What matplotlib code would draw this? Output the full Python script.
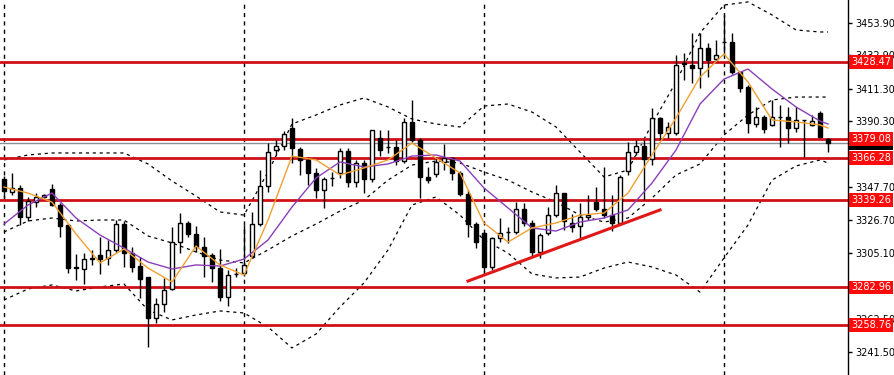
import matplotlib.pyplot as plt
import numpy as np

# candles (price units)
opens = [3353.0, 3344.6, 3347.2, 3328.5, 3338.1, 3341.4, 3346.5, 3336.2, 3323.3, 3296.2,
         3294.9, 3301.3, 3303.9, 3302.0, 3307.2, 3323.9, 3305.2, 3296.8, 3289.7, 3263.3,
         3272.3, 3282.0, 3312.3, 3324.6, 3317.5, 3309.1, 3303.9, 3295.5, 3276.8, 3291.7,
         3292.3, 3303.3, 3323.9, 3348.5, 3371.7, 3374.3, 3385.9, 3372.4, 3365.3, 3356.9,
         3345.9, 3353.6, 3356.9, 3371.1, 3351.1, 3363.3, 3353.0, 3379.5, 3373.6, 3373.6,
         3364.6, 3389.8, 3378.2, 3354.3, 3356.2, 3364.0, 3366.5, 3356.9, 3343.3, 3323.9,
         3318.1, 3296.2, 3314.9, 3318.8, 3318.8, 3333.6, 3324.6, 3305.9, 3318.1, 3329.7,
         3343.9, 3324.6, 3322.6, 3328.5, 3338.1, 3333.6, 3329.7, 3324.6, 3358.2, 3370.4,
         3374.3, 3365.9, 3392.4, 3382.7, 3382.7, 3427.9, 3426.6, 3424.7, 3437.6, 3430.5,
         3441.4, 3441.4, 3422.1, 3412.4, 3388.5, 3393.0, 3387.9, 3393.0, 3393.0, 3385.9,
         3391.1, 3387.9, 3395.6, 3378.8]
highs = [3354.9, 3356.9, 3349.1, 3341.4, 3343.9, 3343.3, 3349.8, 3337.5, 3323.9, 3304.6,
         3305.2, 3307.2, 3315.5, 3313.6, 3326.5, 3325.9, 3309.1, 3302.6, 3290.0, 3276.2,
         3289.1, 3322.0, 3331.0, 3325.9, 3322.6, 3315.5, 3305.2, 3307.8, 3294.2, 3295.5,
         3323.3, 3331.7, 3358.8, 3376.2, 3378.2, 3384.0, 3392.4, 3373.6, 3367.2, 3360.1,
         3354.3, 3357.5, 3373.0, 3373.0, 3365.3, 3365.3, 3384.6, 3384.6, 3384.6, 3378.2,
         3392.4, 3404.0, 3379.5, 3360.7, 3367.2, 3375.6, 3367.2, 3358.2, 3345.9, 3325.2,
         3318.8, 3315.5, 3327.8, 3322.0, 3338.1, 3337.5, 3326.5, 3318.1, 3334.9, 3349.1,
         3344.0, 3330.4, 3337.5, 3342.7, 3347.8, 3360.7, 3342.7, 3355.6, 3376.9, 3378.2,
         3378.2, 3398.8, 3393.0, 3389.8, 3433.0, 3434.3, 3447.3, 3447.3, 3440.8, 3442.7,
         3458.9, 3447.3, 3422.2, 3413.7, 3399.5, 3394.3, 3404.0, 3400.8, 3399.5, 3399.5,
         3391.2, 3394.3, 3396.9, 3379.5]
lows = [3340.7, 3342.7, 3323.3, 3325.9, 3334.9, 3340.7, 3335.6, 3315.5, 3292.3, 3287.8,
        3285.2, 3297.5, 3291.7, 3297.5, 3305.9, 3296.2, 3292.9, 3276.2, 3244.5, 3260.0,
        3267.1, 3281.3, 3305.2, 3315.5, 3305.9, 3289.7, 3286.5, 3274.2, 3271.0, 3289.7,
        3290.4, 3302.0, 3322.6, 3344.6, 3368.5, 3371.7, 3363.3, 3355.6, 3349.1, 3340.7,
        3334.3, 3348.5, 3353.6, 3347.8, 3347.8, 3343.9, 3351.1, 3367.8, 3369.8, 3362.0,
        3363.3, 3376.9, 3340.7, 3350.4, 3354.3, 3358.8, 3352.3, 3342.0, 3315.5, 3308.4,
        3292.9, 3294.2, 3312.3, 3311.7, 3317.5, 3322.6, 3302.6, 3302.0, 3316.8, 3328.5,
        3320.1, 3318.8, 3314.9, 3326.5, 3332.3, 3327.8, 3319.4, 3323.3, 3355.6, 3368.5,
        3339.4, 3362.0, 3378.2, 3379.5, 3381.4, 3416.9, 3415.0, 3411.7, 3418.8, 3428.5,
        3433.0, 3420.8, 3409.2, 3382.7, 3386.6, 3382.7, 3387.2, 3373.6, 3376.2, 3383.3,
        3367.2, 3387.2, 3380.1, 3370.4]
closes = [3345.2, 3347.2, 3328.5, 3338.8, 3341.4, 3342.7, 3336.2, 3322.6, 3295.5, 3295.5,
          3301.3, 3302.0, 3301.3, 3307.2, 3323.9, 3305.2, 3296.2, 3288.4, 3263.3, 3272.3,
          3281.3, 3312.3, 3324.6, 3317.5, 3309.1, 3303.3, 3295.5, 3276.8, 3291.0, 3291.6,
          3297.5, 3323.9, 3348.5, 3370.4, 3374.3, 3382.0, 3373.0, 3365.3, 3356.9, 3345.9,
          3353.0, 3353.5, 3371.1, 3351.1, 3363.3, 3353.0, 3384.6, 3371.7, 3373.5, 3364.6,
          3389.8, 3378.2, 3354.3, 3352.3, 3364.0, 3366.5, 3356.9, 3343.3, 3323.9, 3312.3,
          3296.2, 3314.9, 3318.1, 3318.7, 3333.6, 3324.6, 3305.9, 3316.8, 3329.7, 3343.9,
          3325.9, 3322.0, 3328.5, 3329.7, 3333.6, 3329.7, 3324.6, 3354.3, 3370.4, 3374.3,
          3365.9, 3392.4, 3382.7, 3386.6, 3426.6, 3427.2, 3424.7, 3437.6, 3429.8, 3433.0,
          3441.5, 3422.1, 3411.7, 3389.1, 3393.0, 3385.3, 3393.0, 3393.1, 3385.9, 3391.1,
          3391.0, 3390.4, 3380.1, 3376.47]

# indicator lines, sampled every 3 bars
band_idx = list(range(0, 103, 3)) + [103]
bb_upper = [3365.3, 3368.5, 3369.8, 3369.8, 3369.8, 3369.8, 3362.7, 3351.7, 3342.0, 3331.7,
            3329.7, 3357.5, 3388.5, 3394.3, 3400.8, 3405.3, 3399.5, 3391.7, 3388.5, 3386.6,
            3400.1, 3401.4, 3396.2, 3386.6, 3370.4, 3354.3, 3358.8, 3388.5, 3415.6, 3447.3,
            3465.3, 3467.3, 3458.9, 3449.2, 3447.9, 3447.9]
bb_lower = [3274.9, 3282.0, 3284.6, 3280.7, 3283.3, 3285.2, 3268.4, 3262.0, 3265.2, 3267.8,
            3266.5, 3257.4, 3243.9, 3252.9, 3270.4, 3285.9, 3307.2, 3336.2, 3341.4, 3329.7,
            3313.6, 3305.2, 3291.7, 3289.1, 3289.7, 3295.5, 3299.4, 3296.2, 3291.0, 3280.0,
            3302.0, 3323.3, 3352.3, 3361.4, 3365.3, 3363.3]
bb_middle = [3318.8, 3325.9, 3327.8, 3325.9, 3326.5, 3326.5, 3316.2, 3311.7, 3305.9, 3300.7,
             3298.8, 3307.2, 3316.2, 3323.9, 3332.3, 3339.4, 3352.3, 3362.0, 3364.6, 3363.3,
             3357.5, 3352.3, 3344.6, 3338.1, 3329.7, 3325.2, 3327.8, 3340.7, 3355.6, 3362.7,
             3381.4, 3394.3, 3404.0, 3405.9, 3405.9, 3405.9]
ma_slow = [3323.9, 3336.2, 3343.9, 3327.8, 3316.8, 3308.4, 3299.4, 3294.9, 3297.5, 3296.8,
           3301.3, 3313.6, 3334.9, 3353.6, 3364.0, 3360.7, 3362.7, 3367.8, 3368.5, 3364.6,
           3347.2, 3334.3, 3321.4, 3319.4, 3325.2, 3327.8, 3333.0, 3350.4, 3371.7, 3401.4,
           3417.5, 3424.0, 3411.1, 3399.5, 3390.4, 3388.5]
ma_fast = [3347.8, 3343.9, 3338.1, 3317.5, 3298.8, 3307.8, 3295.5, 3286.5, 3309.7, 3297.5,
           3291.0, 3326.5, 3367.8, 3365.3, 3355.6, 3360.1, 3365.3, 3376.2, 3366.5, 3356.9,
           3324.6, 3312.3, 3321.4, 3324.6, 3329.7, 3331.0, 3343.9, 3368.5, 3392.4, 3418.8,
           3433.7, 3415.6, 3391.1, 3389.8, 3387.9, 3385.9]

levels = [3428.47, 3379.08, 3366.28, 3339.26, 3282.96, 3258.76]
bid = 3376.47
trend_idx = [58, 82]
trend_price = [3287.1, 3333.0]
separators = [0, 30, 60, 90]
# axis ticks; the two that sit fully under red level tags are left out
yticks = [3453.90, 3432.90, 3411.30, 3390.30, 3347.70,
          3326.70, 3305.10, 3262.50, 3241.50]

o = np.array(opens)
h = np.array(highs)
l = np.array(lows)
c = np.array(closes)
x = np.arange(len(o))
up = c >= o
body_lo = np.minimum(o, c)
body_h = np.maximum(np.abs(c - o), 0.25)

fig = plt.figure(figsize=(8.94, 3.75), dpi=100, facecolor='white')
ax = fig.add_axes([0, 0, 848 / 894, 1])
ax.set_facecolor('white')

# period separators
for s in separators:
    ax.axvline(s, color='black', lw=1, ls=(0, (3, 3)), zorder=1)

# bollinger bands
for band in (bb_upper, bb_middle, bb_lower):
    ax.plot(band_idx, band, color='black', lw=0.9, ls=(0, (2.5, 3)), zorder=2)

# levels
for lv in levels:
    ax.axhline(lv, color='#d01018', lw=2.0, zorder=2)
ax.axhline(bid, color='#8a9099', lw=1, zorder=2)

# candles
ax.vlines(x, l, h, color='black', lw=1, zorder=3)
ax.bar(x[up], body_h[up], bottom=body_lo[up], width=0.62,
       facecolor='white', edgecolor='black', lw=1, zorder=4)
ax.bar(x[~up], body_h[~up], bottom=body_lo[~up], width=0.62,
       facecolor='black', edgecolor='black', lw=1, zorder=4)

# moving averages
ax.plot(band_idx, ma_slow, color='#8a3fb8', lw=1, zorder=5)
ax.plot(band_idx, ma_fast, color='#f0a030', lw=1, zorder=5)

# trend line
ax.plot(trend_idx, trend_price, color='#e01818', lw=2.2, zorder=5)

ax.set_xlim(-0.5, 105.5)
ax.set_ylim(3226.45, 3468.55)

for side in ('left', 'top', 'bottom'):
    ax.spines[side].set_visible(False)
ax.spines['right'].set_color('black')
ax.spines['right'].set_linewidth(1)
ax.set_xticks([])
ax.yaxis.tick_right()
ax.set_yticks(yticks)
ax.set_yticklabels([f'{t:.2f}' for t in yticks])
ax.tick_params(axis='y', direction='out', length=3, width=1, pad=2,
               labelsize=7, colors='black')

# price tags on the axis
tr = ax.get_yaxis_transform()
ax.text(1.004, bid, f'{bid:.2f}', transform=tr, ha='left', va='center',
        fontsize=7, color='white', clip_on=False, zorder=6,
        bbox=dict(boxstyle='square,pad=0.2', facecolor='black', edgecolor='none'))
for lv in levels:
    ax.text(1.004, lv, f'{lv:.2f}', transform=tr, ha='left', va='center',
            fontsize=7, color='white', clip_on=False, zorder=7,
            bbox=dict(boxstyle='square,pad=0.2', facecolor='#ff0a0a', edgecolor='none'))

fig.savefig('out.png', dpi=100, facecolor='white')
